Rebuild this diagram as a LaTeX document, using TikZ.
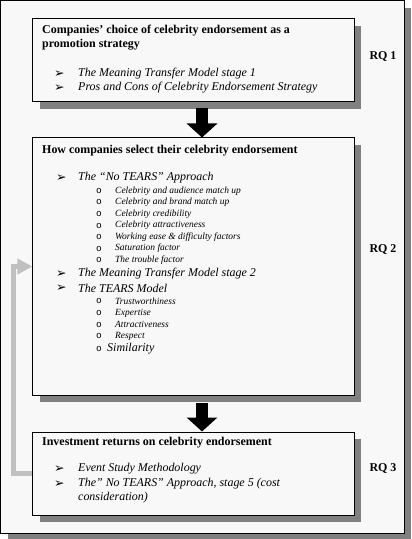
\documentclass[tikz,border=0pt]{standalone}
\usepackage{fontspec}
\setmainfont{Liberation Serif}
\newfontfamily\dv{DejaVu Sans}
\newfontfamily\mono{Liberation Mono}
\usetikzlibrary{arrows.meta,shadows}
\definecolor{paper}{HTML}{F8F8F8}
\definecolor{shade}{HTML}{808080}
\definecolor{fb}{HTML}{C0C0C0}
\begin{document}
\begin{tikzpicture}[x=1bp,y=-1bp,
 box/.style={draw=black, line width=1bp, fill=paper, inner sep=0pt,
   drop shadow={shadow xshift=7bp, shadow yshift=-7bp, fill=shade, opacity=1}},
 ttl/.style={anchor=west, inner sep=0pt, font=\fontsize{12}{14}\selectfont\bfseries},
 itm/.style={anchor=west, inner sep=0pt, font=\fontsize{12}{14}\selectfont\itshape},
 sub/.style={anchor=west, inner sep=0pt, font=\fontsize{9.5}{11}\selectfont\itshape},
 bul/.style={anchor=west, inner sep=0pt, font=\dv\fontsize{12.5}{13}\selectfont},
 sbul/.style={anchor=west, inner sep=0pt, font=\mono\fontsize{9.5}{10}\selectfont},
 rq/.style={inner sep=0pt, font=\fontsize{12}{14}\selectfont\bfseries},
 blk/.style={line width=12bp, -{Triangle[length=14bp,width=30bp]}},
 fbk/.style={draw=fb, line width=5bp, -{Triangle[length=15bp,width=15bp]}}
]
\useasboundingbox[fill=white] (0,0) rectangle (411,539);
\node[box, minimum width=403bp, minimum height=532bp] (frame) at (202.5,267) {};
% boxes
\node[box, minimum width=321bp, minimum height=83bp] (b1) at (193.5,60.5) {};
\node[box, minimum width=321bp, minimum height=257bp] (b2) at (193.5,266.5) {};
\node[box, minimum width=321bp, minimum height=83bp] (b3) at (193.5,473.5) {};
% arrows
\draw[blk] ([xshift=8.5bp,yshift=-6bp]b1.south) -- ([xshift=8.5bp]b2.north);
\draw[blk] ([xshift=8.5bp,yshift=-7bp]b2.south) -- ([xshift=8.5bp]b3.north);
\draw[fbk] (b3.west) -- ++(-18.5,0) |- (b2.west);
% box 1
\node[ttl] (t11) at (42,31) {Companies’ choice of celebrity endorsement as a};
\node[ttl] (t12) at (42,45) {promotion strategy};
\node[bul] (u11) at (54,74) {➢};
\node[itm] (i11) at (78,74) {The Meaning Transfer Model stage 1};
\node[bul] (u12) at (54,88) {➢};
\node[itm] (i12) at (78,88) {Pros and Cons of Celebrity Endorsement Strategy};
% box 2
\node[ttl] (t21) at (42,151) {How companies select their celebrity endorsement};
\node[bul] (u21) at (56,178) {➢};
\node[itm] (i21) at (78,178) {The “No TEARS” Approach};
\node[sbul] (s21) at (96,191) {o};
\node[sub] (j21) at (115,191) {Celebrity and audience match up};
\node[sbul] (s22) at (96,202.5) {o};
\node[sub] (j22) at (115,202.5) {Celebrity and brand match up};
\node[sbul] (s23) at (96,214) {o};
\node[sub] (j23) at (115,214) {Celebrity credibility};
\node[sbul] (s24) at (96,225.5) {o};
\node[sub] (j24) at (115,225.5) {Celebrity attractiveness};
\node[sbul] (s25) at (96,237) {o};
\node[sub] (j25) at (115,237) {Working ease \& difficulty factors};
\node[sbul] (s26) at (96,248.5) {o};
\node[sub] (j26) at (115,248.5) {Saturation factor};
\node[sbul] (s27) at (96,260) {o};
\node[sub] (j27) at (115,260) {The trouble factor};
\node[bul] (u22) at (56,274) {➢};
\node[itm] (i22) at (78,274) {The Meaning Transfer Model stage 2};
\node[bul] (u23) at (56,288) {➢};
\node[itm] (i23) at (78,288) {The TEARS Model};
\node[sbul] (s31) at (96,301) {o};
\node[sub] (j31) at (115,301) {Trustworthiness};
\node[sbul] (s32) at (96,313) {o};
\node[sub] (j32) at (115,313) {Expertise};
\node[sbul] (s33) at (96,324.5) {o};
\node[sub] (j33) at (115,324.5) {Attractiveness};
\node[sbul] (s34) at (96,336) {o};
\node[sub] (j34) at (115,336) {Respect};
\node[sbul] (s35) at (96,349) {o};
\node[itm] (j35) at (107,349) {Similarity};
% box 3
\node[ttl] (t31) at (42,443) {Investment returns on celebrity endorsement};
\node[bul] (u31) at (54,469) {➢};
\node[itm] (i31) at (78,469) {Event Study Methodology};
\node[bul] (u32) at (54,484) {➢};
\node[itm] (i32) at (78,484) {The” No TEARS” Approach, stage 5 (cost};
\node[itm] (i33) at (78,498) {consideration)};
% RQ labels
\node[rq] (rq1) at (383,57) {RQ 1};
\node[rq] (rq2) at (383,250) {RQ 2};
\node[rq] (rq3) at (383,469) {RQ 3};
\end{tikzpicture}
\end{document}
